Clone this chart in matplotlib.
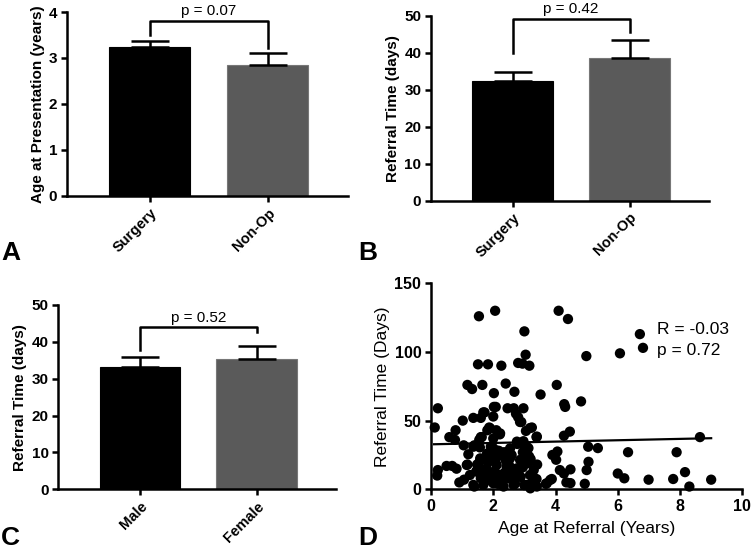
import numpy as np
import matplotlib
matplotlib.use("Agg")
import matplotlib.pyplot as plt

plt.rcParams['font.family'] = ['Liberation Sans', 'DejaVu Sans']

# ── data ──────────────────────────────────────────
groups_a = ["Surgery", "Non-Op"]
mean_a = [3.23, 2.84]
sem_a = [0.14, 0.27]
p_a = "p = 0.07"
bracket_a = [3.81, 3.50, 3.21]      # top, left leg end, right leg end

groups_b = ["Surgery", "Non-Op"]
mean_b = [32.4, 38.6]
sem_b = [2.3, 4.9]
p_b = "p = 0.42"
bracket_b = [49.1, 39.8, 45.5]

groups_c = ["Male", "Female"]
mean_c = [33.3, 35.3]
sem_c = [2.6, 3.7]
p_c = "p = 0.52"
bracket_c = [43.9, 37.8, 42.6]

age = [2.06, 1.54, 4.10, 4.40, 3.00, 6.71, 6.81, 6.07, 4.99, 3.04,
       1.51, 1.83, 2.26, 2.80, 2.94, 3.16, 1.17, 1.32, 1.65, 2.40,
       4.04, 2.68, 2.02, 3.52, 4.82, 4.28, 4.31, 0.22, 2.02, 2.08,
       2.46, 2.66, 2.97, 1.72, 1.60, 1.36, 2.00, 2.73, 2.80, 2.90,
       1.02, 0.12, 1.87, 1.81, 3.24, 3.05, 2.10, 2.21, 0.79, 4.46,
       4.27, 3.39, 0.59, 0.77, 1.60, 1.55, 8.64, 1.05, 1.39, 2.97,
       3.06, 3.13, 2.77, 5.05, 5.36, 1.57, 2.00, 1.20, 4.06, 6.33,
       7.89, 2.35, 2.59, 3.07, 2.03, 0.50, 0.68, 0.82, 0.22, 0.20,
       1.17, 1.55, 3.11, 3.41, 4.02, 5.06, 5.00, 4.14, 4.27, 4.48,
       6.00, 6.21, 6.99, 7.78, 8.16, 8.30, 9.00, 4.94, 4.48, 4.35,
       3.88, 3.69, 0.91, 1.06, 3.39, 3.00, 3.19, 1.39,
       1.90, 2.22, 2.54, 2.86, 1.52, 1.79, 2.11, 2.43, 2.75, 1.25,
       1.57, 1.90, 2.22, 2.54, 2.81, 3.18, 3.83, 1.36, 1.68, 2.00,
       2.33, 2.65, 3.07, 3.40, 3.72, 1.90, 2.22, 3.02, 2.54, 3.40,
       2.00, 1.68, 2.86, 3.18, 1.63, 1.36, 2.76, 1.58, 1.15, 3.90,
       1.45, 1.75, 2.15, 2.45, 2.70, 3.25, 1.95, 2.30, 2.60, 3.15,
       1.85, 2.05, 2.25, 2.40, 1.70, 2.95, 3.20, 1.48, 2.12, 2.62,
       1.92, 2.18, 2.36, 2.50, 2.88, 1.80, 2.08, 3.30, 1.60, 2.70,
       2.95, 2.15, 1.98, 2.28, 2.55]
referral = [130, 126, 130, 124, 115, 113, 103, 99, 97, 98,
            91, 91, 90, 92, 91.5, 90, 76, 73, 76, 77,
            76, 71, 70, 69, 64, 62, 60, 59, 60, 60,
            59, 59, 59, 56, 52, 52, 53, 55, 52.5, 49,
            50, 45, 45, 43, 45, 42.5, 43, 40, 43, 42,
            39, 38, 38, 36, 38, 36, 38, 32, 32, 35,
            31.5, 30, 33, 31, 30, 30.5, 30, 25.5, 27.5, 27,
            27, 27, 25, 25.5, 26, 17, 17, 15, 14, 10,
            18, 19.5, 19, 18, 21.5, 20, 14, 14, 11.5, 14.5,
            11.5, 8, 7, 7.5, 12.5, 2, 7, 4, 4.5, 5,
            7.5, 4, 5, 7, 7.5, 3, 0.7, 2,
            23.7, 25.0, 22.6, 21.4, 16.5, 15.2, 17.7, 16.5, 15.2, 10.4,
            11.6, 9.2, 10.4, 7.8, 11.6, 10.4, 6.8, 3.2, 3.2, 4.4,
            2.0, 3.2, 3.2, 2.0, 4.4, 44.4, 40.7, 29.8, 29.8, 38.4,
            37, 56, 49, 44.6, 38, 31, 34.7, 22.5, 17.7, 25,
            13, 6, 28, 20, 8, 5, 12, 5, 14, 24,
            20, 13, 8, 21, 9, 27, 22, 18, 6, 12,
            31, 28, 12, 18, 9, 26, 22, 14, 8, 4,
            16, 4, 11, 6, 15]
fit_x = [0.1, 9.0]
fit_y = [32.8, 37.2]
stats_d = ["R = -0.03", "p = 0.72"]

bar_colors = ["#000000", "#5a5a5a"]


def style_axes(ax, size=11):
    for s in ["top", "right"]:
        ax.spines[s].set_visible(False)
    for s in ["left", "bottom"]:
        ax.spines[s].set_linewidth(1.8)
    ax.tick_params(width=1.8, length=4.5, labelsize=size, pad=2.5)
    for lab in ax.get_yticklabels() + ax.get_xticklabels():
        lab.set_fontweight("bold")


def bar_panel(ax, groups, means, sems, ptxt, bracket, ylim, yticks, ylabel):
    x = np.arange(len(groups))
    ax.bar(x, means, width=0.69, color=bar_colors, edgecolor=["#000000", "#777777"],
           linewidth=0.8, zorder=2)
    ax.errorbar(x, means, yerr=[np.zeros(len(sems)), sems], fmt="none",
                ecolor="black", elinewidth=1.8, capsize=14, capthick=1.8, zorder=3)
    top, l_end, r_end = bracket
    ax.plot([0, 0, 1, 1], [l_end, top, top, r_end], color="black", lw=1.8,
            clip_on=False, zorder=4)
    ax.text(0.5, top + (ylim[1] - ylim[0]) * 0.015, ptxt, ha="center", va="bottom",
            fontsize=11, clip_on=False)
    ax.set_xlim(-0.70, 1.68)
    ax.set_ylim(*ylim)
    ax.set_yticks(yticks)
    ax.set_xticks(x)
    ax.set_xticklabels(groups, rotation=45, ha="right", rotation_mode="anchor")
    ax.set_ylabel(ylabel, fontsize=11, fontweight="bold", labelpad=3)
    style_axes(ax)
    for lab in ax.get_xticklabels():
        lab.set_fontsize(10.5)


fig = plt.figure(figsize=(7.51, 5.53), dpi=100)

ax_a = fig.add_axes([0.0892, 0.6456, 0.3742, 0.3327])
bar_panel(ax_a, groups_a, mean_a, sem_a, p_a, bracket_a, (0, 4), [0, 1, 2, 3, 4],
          "Age at Presentation (years)")

ax_b = fig.add_axes([0.5739, 0.6371, 0.3702, 0.3345])
bar_panel(ax_b, groups_b, mean_b, sem_b, p_b, bracket_b, (0, 50), [0, 10, 20, 30, 40, 50],
          "Referral Time (days)")

ax_c = fig.add_axes([0.0776, 0.1152, 0.3698, 0.3333])
bar_panel(ax_c, groups_c, mean_c, sem_c, p_c, bracket_c, (0, 50), [0, 10, 20, 30, 40, 50],
          "Referral Time (days)")

ax_d = fig.add_axes([0.5739, 0.1152, 0.4145, 0.3725])
ax_d.scatter(age, referral, s=55, color="black", edgecolors="none", zorder=3, clip_on=False)
ax_d.plot(fit_x, fit_y, color="black", lw=1.6, zorder=2)
ax_d.text(7.27, 116, stats_d[0], fontsize=12.5, va="center")
ax_d.text(7.27, 101, stats_d[1], fontsize=12.5, va="center")
ax_d.set_xlim(0, 10)
ax_d.set_ylim(0, 150)
ax_d.set_xticks([0, 2, 4, 6, 8, 10])
ax_d.set_yticks([0, 50, 100, 150])
ax_d.set_xlabel("Age at Referral (Years)", fontsize=12.5, labelpad=5)
ax_d.set_ylabel("Referral Time (Days)", fontsize=12.5, labelpad=3)
style_axes(ax_d, size=11.5)

# panel letters
for letter, (px, py) in zip("ABCD", [(11, 253), (368, 253), (10, 538), (368, 538)]):
    fig.text(px / 751, 1 - py / 553, letter, fontsize=19, fontweight="bold",
             ha="center", va="center")

fig.savefig("out.png", dpi=100)
